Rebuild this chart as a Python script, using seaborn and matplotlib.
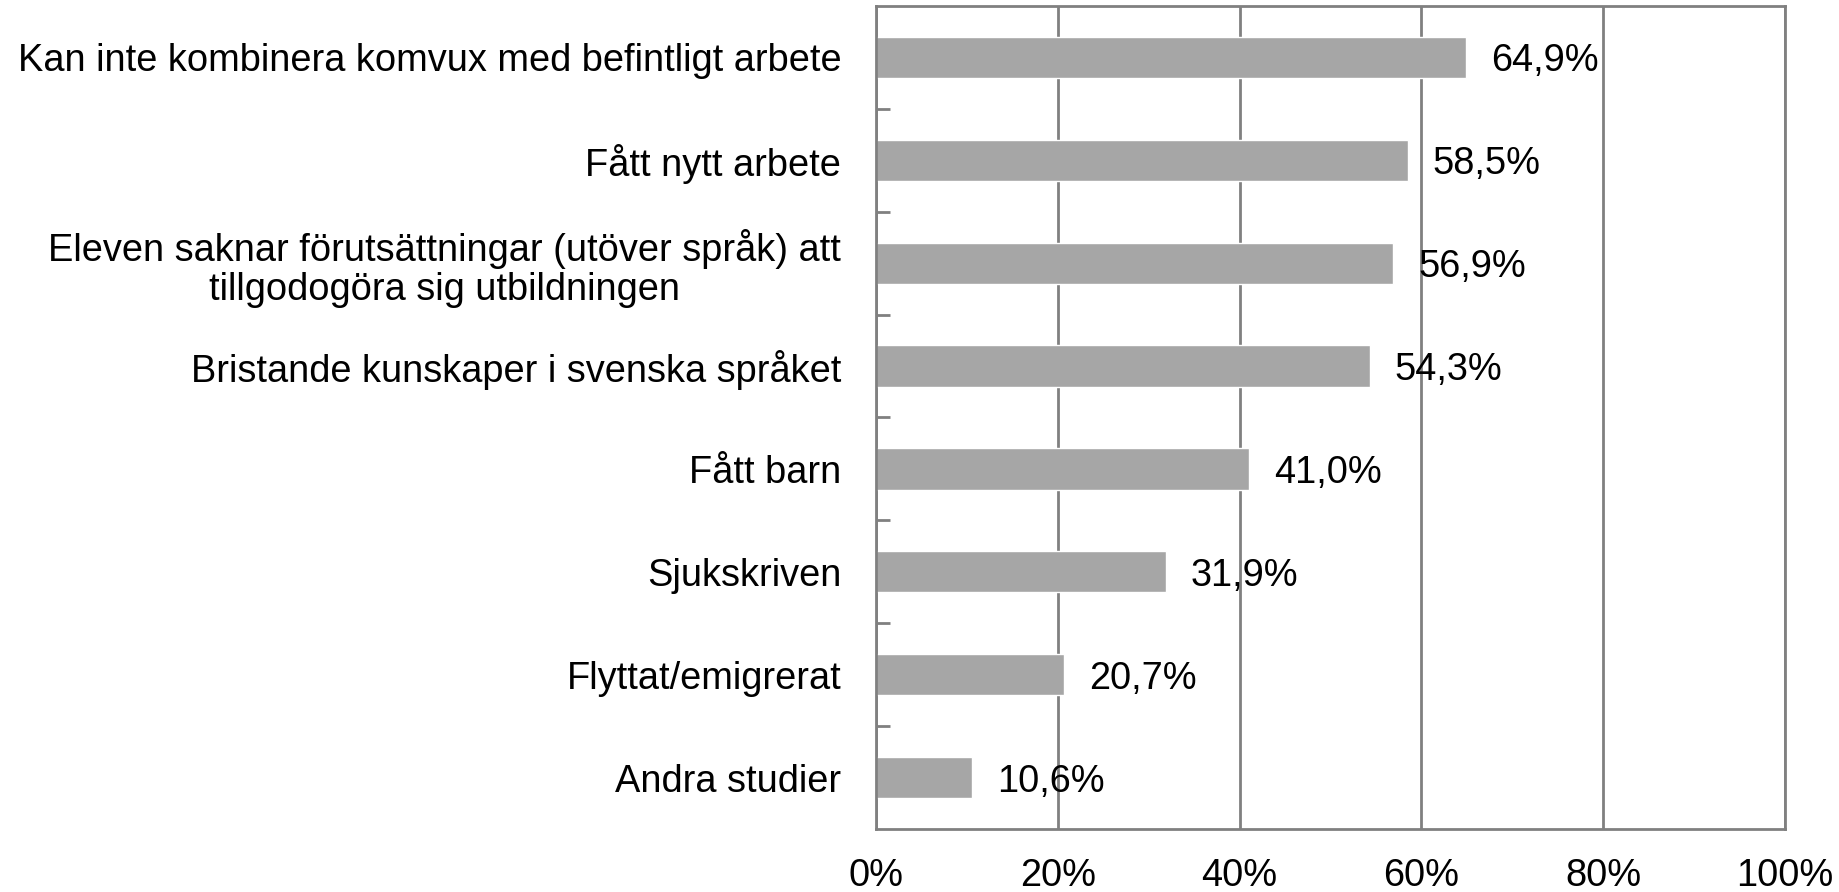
import matplotlib
matplotlib.use("Agg")
import matplotlib.pyplot as plt
import seaborn as sns
import pandas as pd
import numpy as np

categories = [
    "Kan inte kombinera komvux med befintligt arbete",
    "Fått nytt arbete",
    "Eleven saknar förutsättningar (utöver språk) att\ntillgodogöra sig utbildningen",
    "Bristande kunskaper i svenska språket",
    "Fått barn",
    "Sjukskriven",
    "Flyttat/emigrerat",
    "Andra studier",
]
values = [64.9, 58.5, 56.9, 54.3, 41.0, 31.9, 20.7, 10.6]
value_labels = ["64,9%", "58,5%", "56,9%", "54,3%", "41,0%", "31,9%", "20,7%", "10,6%"]
x_ticks = [0, 20, 40, 60, 80, 100]
x_tick_labels = ["0%", "20%", "40%", "60%", "80%", "100%"]

sns.set_style("white")
plt.rcParams["font.family"] = ["Liberation Sans", "DejaVu Sans"]
plt.rcParams["text.color"] = "black"
plt.rcParams["xtick.color"] = "black"
plt.rcParams["ytick.color"] = "black"

FS = 27.4

df = pd.DataFrame({"cat": categories, "val": values})

fig = plt.figure(figsize=(18.39, 8.92), dpi=100)
ax = fig.add_axes([876/1839, 1 - 829/892, (1785 - 876)/1839, (829 - 6)/892])

sns.barplot(data=df, x="val", y="cat", color="#a6a6a6", width=0.4,
            saturation=1, ax=ax, orient="h")

ax.set_xlim(0, 100)
ax.set_ylim(len(categories) - 0.5, -0.5)
ax.set_xticks(x_ticks)
ax.set_xticklabels(x_tick_labels, fontsize=FS)
ax.set_xlabel("")
ax.set_ylabel("")
ax.tick_params(axis="x", length=0, pad=21, labelcolor="black")
ax.tick_params(axis="y", which="major", left=False, length=0, pad=25,
               labelsize=FS, labelcolor="black")
for lab in ax.get_yticklabels():
    lab.set_multialignment("center")
    lab.set_linespacing(1.1)
ax.set_yticks(np.arange(0.5, len(categories) - 1, 1), minor=True)
ax.tick_params(axis="y", which="minor", left=True, direction="in",
               length=10, width=2, color="#808080")

ax.grid(axis="x", color="#808080", linewidth=2)
ax.set_axisbelow(True)
for s in ax.spines.values():
    s.set_color("#808080")
    s.set_linewidth(2)
    s.set_visible(True)

for i, (v, t) in enumerate(zip(values, value_labels)):
    ax.annotate(t, (v, i), xytext=(25, 0), textcoords="offset pixels",
                va="center_baseline", ha="left", fontsize=FS, color="black")

fig.savefig("out.png", dpi=100)
